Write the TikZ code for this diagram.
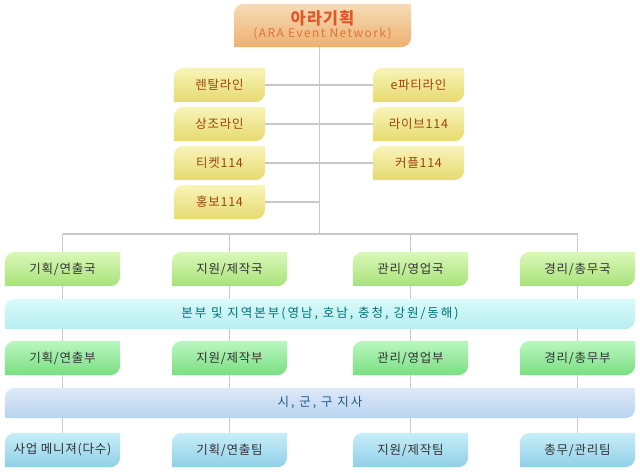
\documentclass[tikz,border=0pt]{standalone}
\usepackage{fontspec}
\setmainfont{Noto Sans CJK KR}[LetterSpace=6]
\usetikzlibrary{backgrounds}
\definecolor{linegray}{HTML}{C8C8C8}
\definecolor{aratop}{HTML}{F6DCB8}
\definecolor{arabot}{HTML}{EDB070}
\definecolor{aratitle}{HTML}{E0582A}
\definecolor{arasub}{HTML}{DE7436}
\definecolor{yellowtop}{HTML}{F8F4B8}
\definecolor{yellowbot}{HTML}{E6DA70}
\definecolor{yellowtext}{HTML}{9C4410}
\definecolor{greentop}{HTML}{DAF8B8}
\definecolor{greenbot}{HTML}{A8E27A}
\definecolor{mintop}{HTML}{BAF6C0}
\definecolor{minbot}{HTML}{7ADF82}
\definecolor{cyantop}{HTML}{DAFAFA}
\definecolor{cyanbot}{HTML}{B6EEF0}
\definecolor{cyantext}{HTML}{00707A}
\definecolor{skytop}{HTML}{DEE9F8}
\definecolor{skybot}{HTML}{B8D3F0}
\definecolor{skytext}{HTML}{1E5A8A}
\definecolor{teamtop}{HTML}{C8EEF8}
\definecolor{teambot}{HTML}{90CFE8}
\definecolor{boxtext}{HTML}{333333}
\tikzset{
  box/.style={inner sep=0pt, minimum height=34pt, font=\fontsize{12.5}{14}\selectfont},
  yellowbox/.style={box, minimum width=91pt, text=yellowtext},
  unitbox/.style={box, minimum width=115pt, text=boxtext},
  band/.style={inner sep=0pt, minimum width=630pt, minimum height=30pt, font=\fontsize{12.5}{14}\selectfont\addfontfeature{LetterSpace=16}},
  link/.style={draw=linegray, line width=1.2pt}
}
\newcommand{\leaf}[3]{\shade[top color=#2, bottom color=#3] ([yshift=-10pt]#1.north west) arc[start angle=180, end angle=90, radius=10pt] -- (#1.north east) -- ([yshift=10pt]#1.south east) arc[start angle=0, end angle=-90, radius=10pt] -- (#1.south west) -- cycle;}
\begin{document}
\begin{tikzpicture}[x=1pt, y=-1pt]
\useasboundingbox (0,0) rectangle (640,472);
\node[inner sep=0pt, minimum width=177pt, minimum height=43pt, align=center] (ara) at (322.5,25.5) {{\fontsize{16.5}{20}\selectfont\bfseries\color{aratitle}아라기획}\\[1pt]{\fontsize{12}{14}\selectfont\addfontfeature{LetterSpace=12}\color{arasub}(ARA Event Network)}};
% lines
\node[yellowbox] (rental) at (219.5,85) {렌탈라인};
\node[yellowbox] (sangjo) at (219.5,124) {상조라인};
\node[yellowbox] (ticket) at (219.5,163) {티켓114};
\node[yellowbox] (hongbo) at (219.5,202) {홍보114};
\node[yellowbox] (eparty) at (418.5,85) {e파티라인};
\node[yellowbox] (live) at (418.5,124) {라이브114};
\node[yellowbox] (couple) at (418.5,163) {커플114};
\coordinate (trunk) at (319.5,234);
% departments
\node[unitbox] (plan1) at (62.5,269) {기획/연출국};
\node[unitbox] (supp1) at (229.5,269) {지원/제작국};
\node[unitbox] (mgmt1) at (410.5,269) {관리/영업국};
\node[unitbox] (acct1) at (577.5,269) {경리/총무국};
\node[band, text=cyantext] (hq) at (320,314) {본부 및 지역본부(영남, 호남, 충청, 강원/동해)};
\node[unitbox] (plan2) at (62.5,358) {기획/연출부};
\node[unitbox] (supp2) at (229.5,358) {지원/제작부};
\node[unitbox] (mgmt2) at (410.5,358) {관리/영업부};
\node[unitbox] (acct2) at (577.5,358) {경리/총무부};
\node[band, text=skytext] (branch) at (320,403) {시, 군, 구 지사};
\node[unitbox] (mgr) at (62.5,450) {사업 메니져(다수)};
\node[unitbox] (plan3) at (229.5,450) {기획/연출팀};
\node[unitbox] (supp3) at (410.5,450) {지원/제작팀};
\node[unitbox] (gen3) at (577.5,450) {총무/관리팀};
\begin{scope}[on background layer]
\draw[link] (ara.south -| trunk) -- (trunk);
\foreach \a/\b in {rental/eparty, sangjo/live, ticket/couple}
  \draw[link] (\a) -- (\b);
\draw[link] (hongbo) -- (hongbo -| trunk);
\draw[link] (plan1 |- trunk) -- (acct1 |- trunk);
\foreach \a/\b in {plan1/mgr, supp1/plan3, mgmt1/supp3, acct1/gen3}
  \draw[link] (\a |- trunk) -- (\b);
\leaf{ara}{aratop}{arabot}
\foreach \n in {rental, sangjo, ticket, hongbo, eparty, live, couple}
  {\leaf{\n}{yellowtop}{yellowbot}}
\foreach \n in {plan1, supp1, mgmt1, acct1}
  {\leaf{\n}{greentop}{greenbot}}
\leaf{hq}{cyantop}{cyanbot}
\foreach \n in {plan2, supp2, mgmt2, acct2}
  {\leaf{\n}{mintop}{minbot}}
\leaf{branch}{skytop}{skybot}
\foreach \n in {mgr, plan3, supp3, gen3}
  {\leaf{\n}{teamtop}{teambot}}
\end{scope}
\end{tikzpicture}
\end{document}
